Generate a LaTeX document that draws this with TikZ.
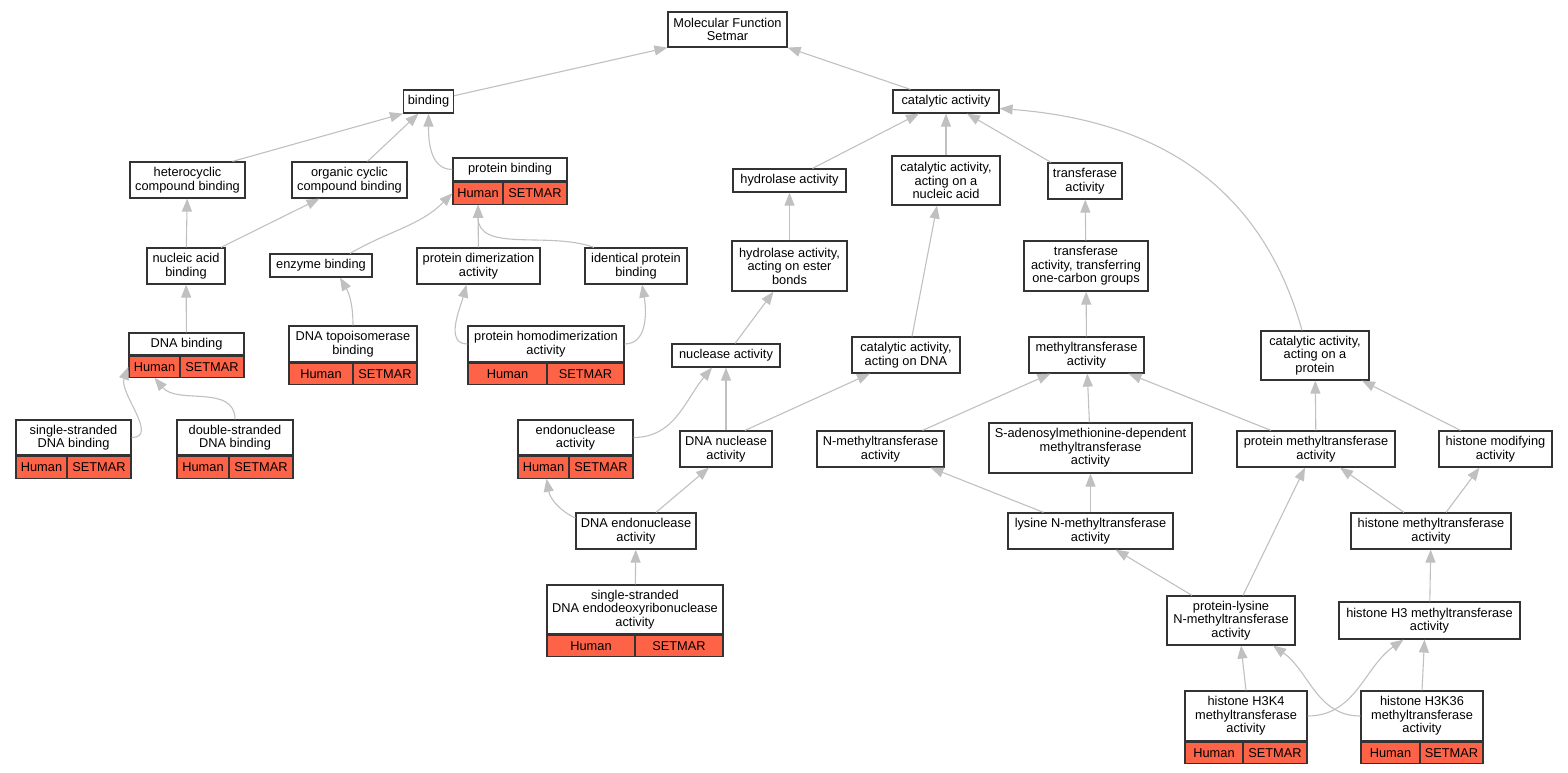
\documentclass[tikz,border=0pt]{standalone}
\usepackage{fontspec}
\setmainfont{Liberation Sans}
\usepackage{tikz}
\usetikzlibrary{arrows.meta}
\definecolor{tomato}{HTML}{FF6347}
\definecolor{isagray}{HTML}{C0C0C0}
\newcommand{\termfont}{\fontsize{12.8}{13.5}\selectfont}
\tikzset{
  term/.style={draw=black!80, line width=1.2pt, fill=white, align=center, inner sep=0pt, font=\termfont},
  gene/.style={term, fill=tomato},
  sz/.style 2 args={minimum width=#1, minimum height=#2},
  isa/.style={draw=isagray, line width=1.1pt, -{Triangle[length=13pt,width=10pt]}},
}

\begin{document}
\begin{tikzpicture}[x=1pt, y=-1pt]
\useasboundingbox (0,0) rectangle (1568,773);
% terms, top rows
\node[term, sz={119}{35}] (mf) at (727.5,29.5) {Molecular Function\\Setmar};
\node[term, sz={50}{23}] (bind) at (428.5,101.5) {binding};
\node[term, sz={106}{23}] (cat) at (946,101.5) {catalytic activity};
\node[term, sz={115}{36}] (hetero) at (187.5,180) {heterocyclic\\compound binding};
\node[term, sz={115}{36}] (organic) at (349.5,180) {organic cyclic\\compound binding};
\node[term, sz={113}{23}] (hydro) at (789.5,180.5) {hydrolase activity};
\node[term, sz={108}{49}] (catna) at (946,180.5) {catalytic activity,\\acting on a\\nucleic acid};
\node[term, sz={74}{36}] (trans) at (1085,181) {transferase\\activity};
\node[term, sz={78}{36}] (nab) at (186,266) {nucleic acid\\binding};
\node[term, sz={102}{23}] (enz) at (321,265.5) {enzyme binding};
\node[term, sz={123}{36}] (pdim) at (478.5,266) {protein dimerization\\activity};
\node[term, sz={102}{36}] (ident) at (636,266) {identical protein\\binding};
\node[term, sz={115}{50}] (ester) at (789.5,266) {hydrolase activity,\\acting on ester\\bonds};
\node[term, sz={124}{50}] (onec) at (1086,266) {transferase\\activity, transferring\\one-carbon groups};
\node[term, sz={108}{23}] (nuc) at (726,355.5) {nuclease activity};
\node[term, sz={108}{36}] (catdna) at (906,355) {catalytic activity,\\acting on DNA};
\node[term, sz={115}{36}] (meth) at (1086.5,355) {methyltransferase\\activity};
\node[term, sz={108}{49}] (catprot) at (1315,355.5) {catalytic activity,\\acting on a\\protein};
\node[term, sz={92}{36}] (dnanuc) at (726,449) {DNA nuclease\\activity};
\node[term, sz={127}{36}] (nmeth) at (880.5,449) {N-methyltransferase\\activity};
\node[term, sz={203}{50}] (sam) at (1090.5,448) {S-adenosylmethionine-dependent\\methyltransferase\\activity};
\node[term, sz={158}{36}] (pmeth) at (1316,449) {protein methyltransferase\\activity};
\node[term, sz={113}{36}] (hmod) at (1495.5,449) {histone modifying\\activity};
\node[term, sz={120}{36}] (dnaendo) at (636,531) {DNA endonuclease\\activity};
\node[term, sz={165}{36}] (lysn) at (1090.5,531) {lysine N-methyltransferase\\activity};
\node[term, sz={160}{36}] (hmt) at (1431,531) {histone methyltransferase\\activity};
\node[term, sz={128}{49}] (plys) at (1231,620.5) {protein-lysine\\N-methyltransferase\\activity};
\node[term, sz={181}{37}] (h3) at (1429.5,620.5) {histone H3 methyltransferase\\activity};

% annotated terms with Human | SETMAR row
\node[term, sz={114}{23}] (pb) at (510,169.5) {protein binding};
\node[gene, sz={50}{22}, anchor=north west] (pbh) at (pb.south west) {Human};
\node[gene, sz={64}{22}, anchor=north east] (pbs) at (pb.south east) {SETMAR};
\node[term, sz={115}{22}] (dnab) at (186.5,344) {DNA binding};
\node[gene, sz={51}{21}, anchor=north west] (dnabh) at (dnab.south west) {Human};
\node[gene, sz={64}{21}, anchor=north east] (dnabs) at (dnab.south east) {SETMAR};
\node[term, sz={128}{36}] (topo) at (353,344) {DNA topoisomerase\\binding};
\node[gene, sz={64}{21}, anchor=north west] (topoh) at (topo.south west) {Human};
\node[gene, sz={64}{21}, anchor=north east] (topos) at (topo.south east) {SETMAR};
\node[term, sz={156}{36}] (homo) at (546,344) {protein homodimerization\\activity};
\node[gene, sz={79}{21}, anchor=north west] (homoh) at (homo.south west) {Human};
\node[gene, sz={77}{21}, anchor=north east] (homos) at (homo.south east) {SETMAR};
\node[term, sz={115}{35}] (ssdb) at (73.5,437.5) {single-stranded\\DNA binding};
\node[gene, sz={51}{22}, anchor=north west] (ssdbh) at (ssdb.south west) {Human};
\node[gene, sz={64}{22}, anchor=north east] (ssdbs) at (ssdb.south east) {SETMAR};
\node[term, sz={116}{35}] (dsdb) at (235,437.5) {double-stranded\\DNA binding};
\node[gene, sz={52}{22}, anchor=north west] (dsdbh) at (dsdb.south west) {Human};
\node[gene, sz={64}{22}, anchor=north east] (dsdbs) at (dsdb.south east) {SETMAR};
\node[term, sz={115}{35}] (endo) at (575.5,437.5) {endonuclease\\activity};
\node[gene, sz={51}{22}, anchor=north west] (endoh) at (endo.south west) {Human};
\node[gene, sz={64}{22}, anchor=north east] (endos) at (endo.south east) {SETMAR};
\node[term, sz={176}{49}] (ssendo) at (635,609.5) {single-stranded\\DNA endodeoxyribonuclease\\activity};
\node[gene, sz={88}{21}, anchor=north west] (ssendoh) at (ssendo.south west) {Human};
\node[gene, sz={88}{21}, anchor=north east] (ssendos) at (ssendo.south east) {SETMAR};
\node[term, sz={122}{50}] (h3k4) at (1246,716) {histone H3K4\\methyltransferase\\activity};
\node[gene, sz={58}{21}, anchor=north west] (h3k4h) at (h3k4.south west) {Human};
\node[gene, sz={64}{21}, anchor=north east] (h3k4s) at (h3k4.south east) {SETMAR};
\node[term, sz={122}{50}] (h3k36) at (1422,716) {histone H3K36\\methyltransferase\\activity};
\node[gene, sz={59}{21}, anchor=north west] (h3k36h) at (h3k36.south west) {Human};
\node[gene, sz={63}{21}, anchor=north east] (h3k36s) at (h3k36.south east) {SETMAR};

% is_a links, child to parent
\foreach \a/\b in {catna/cat, nab/hetero, pdim/pbh, ester/hydro, onec/trans, dnab/nab, meth/onec,
  dnanuc/nuc, sam/meth, pmeth/catprot, lysn/sam, ssendo/dnaendo, h3/hmt}
  \draw[isa] (\a) -- (\b);
\draw[isa] (bind) -- (mf.south west);
\draw[isa] (cat) -- (mf.south east);
\draw[isa] ([xshift=45]hetero.north) -- (bind.south west);
\draw[isa] ([xshift=18]organic.north) -- ([xshift=-10]bind.south);
\draw[isa] (pb.west) to[out=180,in=-90] (bind.south);
\draw[isa] ([xshift=23]hydro.north) -- ([xshift=-27]cat.south);
\draw[isa] ([xshift=-34]trans.north) -- ([xshift=21]cat.south);
\draw[isa] ([xshift=-13]catprot.north) .. controls (1260,180) and (1150,120) .. ([yshift=-7]cat.east);
\draw[isa] ([xshift=35]nab.north) -- ([xshift=-30]organic.south);
\draw[isa] ([xshift=29]enz.north) to[out=30,in=225] (pbh.west);
\draw[isa] (topo.north) to[out=90,in=-60] ([xshift=19]enz.south);
\draw[isa] ([xshift=-42]ident.north) to[out=160,in=-90] (pbh.south);
\draw[isa] (homo.west) to[out=180,in=-105] ([xshift=-12]pdim.south);
\draw[isa] (homo.east) to[out=0,in=-80] ([xshift=6]ident.south);
\draw[isa] ([xshift=9]nuc.north) -- ([xshift=-16]ester.south);
\draw[isa] ([xshift=6]catdna.north) -- ([xshift=-9]catna.south);
\draw[isa] (ssdb.east) to[out=0,in=-110] (dnabh.west);
\draw[isa] (dsdb.north) to[out=90,in=-50] (dnabh.south);
\draw[isa] (endo.east) to[out=0,in=-130] ([xshift=-14]nuc.south);
\draw[isa] ([xshift=19]dnanuc.north) -- ([xshift=-36]catdna.south);
\draw[isa] ([xshift=42]nmeth.north) -- ([xshift=-36]meth.south);
\draw[isa] ([xshift=-45]pmeth.north) -- ([xshift=42]meth.south);
\draw[isa] ([xshift=-35]hmod.north) -- ([xshift=47]catprot.south);
\draw[isa] ([yshift=13]dnaendo.west) to[out=155,in=-80] ([xshift=3]endoh.south);
\draw[isa] ([xshift=20]dnaendo.north) -- ([xshift=-17]dnanuc.south);
\draw[isa] ([xshift=-47]lysn.north) -- ([xshift=50]nmeth.south);
\draw[isa] ([xshift=-27]hmt.north) -- ([xshift=24]pmeth.south);
\draw[isa] ([xshift=15]hmt.north) -- ([xshift=-16]hmod.south);
\draw[isa] ([xshift=-39]plys.north) -- ([xshift=25]lysn.south);
\draw[isa] ([xshift=12]plys.north) -- ([xshift=-11]pmeth.south);
\draw[isa] (h3k4.north) -- ([xshift=10]plys.south);
\draw[isa] (h3k4.east) to[out=0,in=-145] ([xshift=-26]h3.south);
\draw[isa] (h3k36.west) to[out=180,in=-35] ([xshift=42]plys.south);
\draw[isa] (h3k36.north) -- ([xshift=-5]h3.south);
\end{tikzpicture}
\end{document}
